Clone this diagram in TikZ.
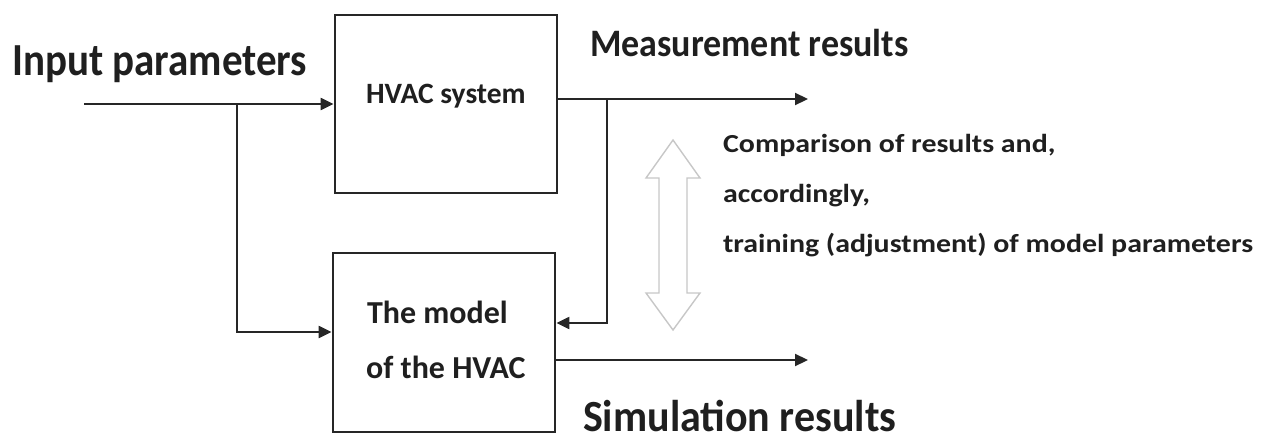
\documentclass[tikz,border=0pt]{standalone}
\usepackage{graphicx}
\usepackage{fontspec}
\setmainfont{Carlito}
\usetikzlibrary{arrows.meta}
\newcommand\stxt[3]{\scalebox{#1}[#2]{#3}}
\begin{document}
\begin{tikzpicture}[x=1pt,y=-1pt,
  line width=2.2pt, color={black!85},
  blk/.style={draw, line width=2.8pt, inner sep=0pt, fill=white},
  lbl/.style={inner sep=0pt, text=black!88, anchor=base west},
  arr/.style={-{Triangle[length=13pt,width=12pt]}},
  hollow/.style={draw=black!22, line width=1.4pt, fill=white}]
\useasboundingbox (0,0) rectangle (1269,444);
% boxes
\node[blk, minimum width=222pt, minimum height=178pt] (sys) at (446,104) {};
\node[blk, minimum width=222pt, minimum height=179pt] (mod) at (444,342.5) {};
\node[lbl, font=\bfseries\fontsize{29.5}{30}\selectfont] (t1) at (365,103) {HVAC system};
\node[lbl, font=\bfseries\fontsize{32}{34}\selectfont] (t2) at (366,323) {The model};
\node[lbl, font=\bfseries\fontsize{32}{34}\selectfont] (t3) at (365,378) {of the HVAC};
% labels
\node[lbl, font=\bfseries\fontsize{41}{44}\selectfont] (inp) at (11,75) {\stxt{1}{1.12}{Input parameters}};
\node[lbl, font=\bfseries\fontsize{36}{40}\selectfont] (meas) at (589,57) {\stxt{1}{1.08}{Measurement results}};
\node[lbl, font=\bfseries\fontsize{42}{44}\selectfont] (sim) at (582,431) {\stxt{1}{1.06}{Simulation results}};
\node[lbl, font=\bfseries\fontsize{26}{28}\selectfont] (c1) at (722,152) {\stxt{1.15}{1}{Comparison of results and,}};
\node[lbl, font=\bfseries\fontsize{26}{28}\selectfont] (c2) at (722,202) {\stxt{1.15}{1}{accordingly,}};
\node[lbl, font=\bfseries\fontsize{26}{28}\selectfont] (c3) at (722,252) {\stxt{1.15}{1}{training (adjustment) of model parameters}};
% coordinates
\coordinate (in0) at (84,104);
\coordinate (br1) at (237,104);
\coordinate (br2) at (237,332);
\coordinate (o1) at (808,99);
\coordinate (fb1) at (607,99);
\coordinate (fb2) at (607,323);
\coordinate (o2) at (808,360);
% connectors
\draw[arr] (in0) -- (sys.west |- in0);
\draw[arr] (br1) -- (br2) -- (mod.west |- br2);
\draw[arr] (sys.east |- o1) -- (o1);
\draw[arr] (fb1) -- (fb2) -- (mod.east |- fb2);
\draw[arr] (mod.east |- o2) -- (o2);
% hollow double arrow
\draw[hollow] (673,140) -- (700,178) -- (687,178) -- (687,293) -- (700,293) -- (673,330)
  -- (646,293) -- (659,293) -- (659,178) -- (646,178) -- cycle;
\end{tikzpicture}
\end{document}
